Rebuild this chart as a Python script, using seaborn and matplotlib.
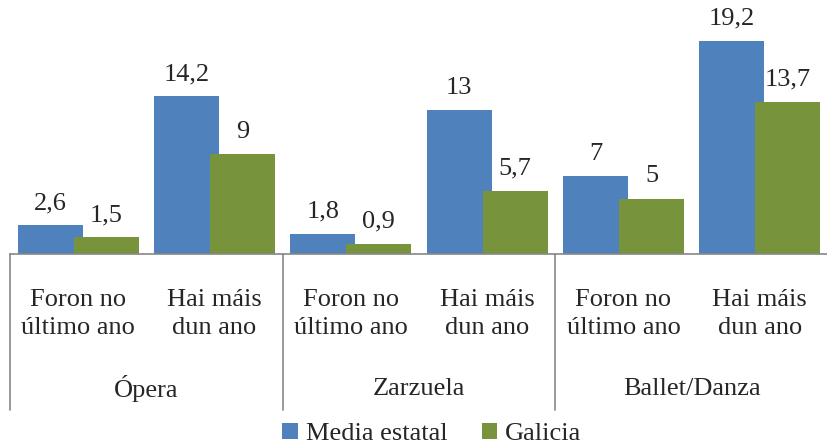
import matplotlib
matplotlib.use("Agg")
import matplotlib.pyplot as plt
import matplotlib.transforms as mtransforms
from matplotlib.patches import Patch
import seaborn as sns
import pandas as pd

groups = ["Ópera", "Zarzuela", "Ballet/Danza"]
subcats = ["Foron no\núltimo ano", "Hai máis\ndun ano"]
series = ["Media estatal", "Galicia"]
media_estatal = [2.6, 14.2, 1.8, 13.0, 7.0, 19.2]
galicia = [1.5, 9.0, 0.9, 5.7, 5.0, 13.7]
colors = ["#4F81BD", "#77933C"]

cats = [f"{g}|{s}" for g in groups for s in subcats]
df = pd.DataFrame({
    "cat": cats * 2,
    "serie": [series[0]] * 6 + [series[1]] * 6,
    "valor": media_estatal + galicia,
})

sns.set_style("white")
plt.rcParams["font.family"] = ["Liberation Serif", "DejaVu Serif"]

fig = plt.figure(figsize=(8.27, 4.44), dpi=100)
ax = fig.add_axes([10 / 827, (444 - 254) / 444, 818 / 827, 254 / 444])

sns.barplot(data=df, x="cat", y="valor", hue="serie", hue_order=series,
            palette=colors, width=0.82, dodge=True, legend=False, ax=ax,
            saturation=1, errorbar=None, linewidth=0)

# widen bars slightly so they overlap like the original
bw = 0.478
for p in ax.patches:
    c = p.get_x() + p.get_width() / 2
    p.set_width(bw)
    p.set_x(c - bw / 2)

ax.set_ylim(0, 22.9)
ax.set_xlim(-0.5, 5.5)
ax.set_yticks([])
ax.set_ylabel("")
ax.set_xlabel("")

def fmt(v):
    return str(int(v)) if float(v).is_integer() else f"{v:.1f}".replace(".", ",")

for p in ax.patches:
    h = p.get_height()
    ax.annotate(fmt(h), (p.get_x() + p.get_width() / 2, h),
                xytext=(0, 8), textcoords="offset points",
                ha="center", va="bottom", fontsize=19)

ax.set_xticks(range(6))
ax.set_xticklabels([s for g in groups for s in subcats], fontsize=19,
                   linespacing=1.35)
ax.tick_params(axis="x", length=0, pad=25)

for side in ["top", "right", "left"]:
    ax.spines[side].set_visible(False)
ax.spines["bottom"].set_color("#868686")
ax.spines["bottom"].set_linewidth(1.2)

trans = mtransforms.blended_transform_factory(ax.transData, ax.transAxes)
for xs in [-0.5, 1.5, 3.5, 5.5]:
    ax.plot([xs, xs], [0, -0.614], transform=trans, color="#868686",
            lw=1.2, clip_on=False)
for i, g in enumerate(groups):
    ax.text(2 * i + 0.5, -0.53, g, transform=trans, ha="center",
            va="center", fontsize=19)

handles = [Patch(facecolor=c, edgecolor="none") for c in colors]
fig.legend(handles, series, loc="center", bbox_to_anchor=(0.522, 10 / 444),
           ncol=2, frameon=False, fontsize=19, handlelength=0.6,
           handleheight=0.6, handletextpad=0.3, columnspacing=1.3,
           borderaxespad=0, borderpad=0)

fig.savefig("out.png", dpi=100)
